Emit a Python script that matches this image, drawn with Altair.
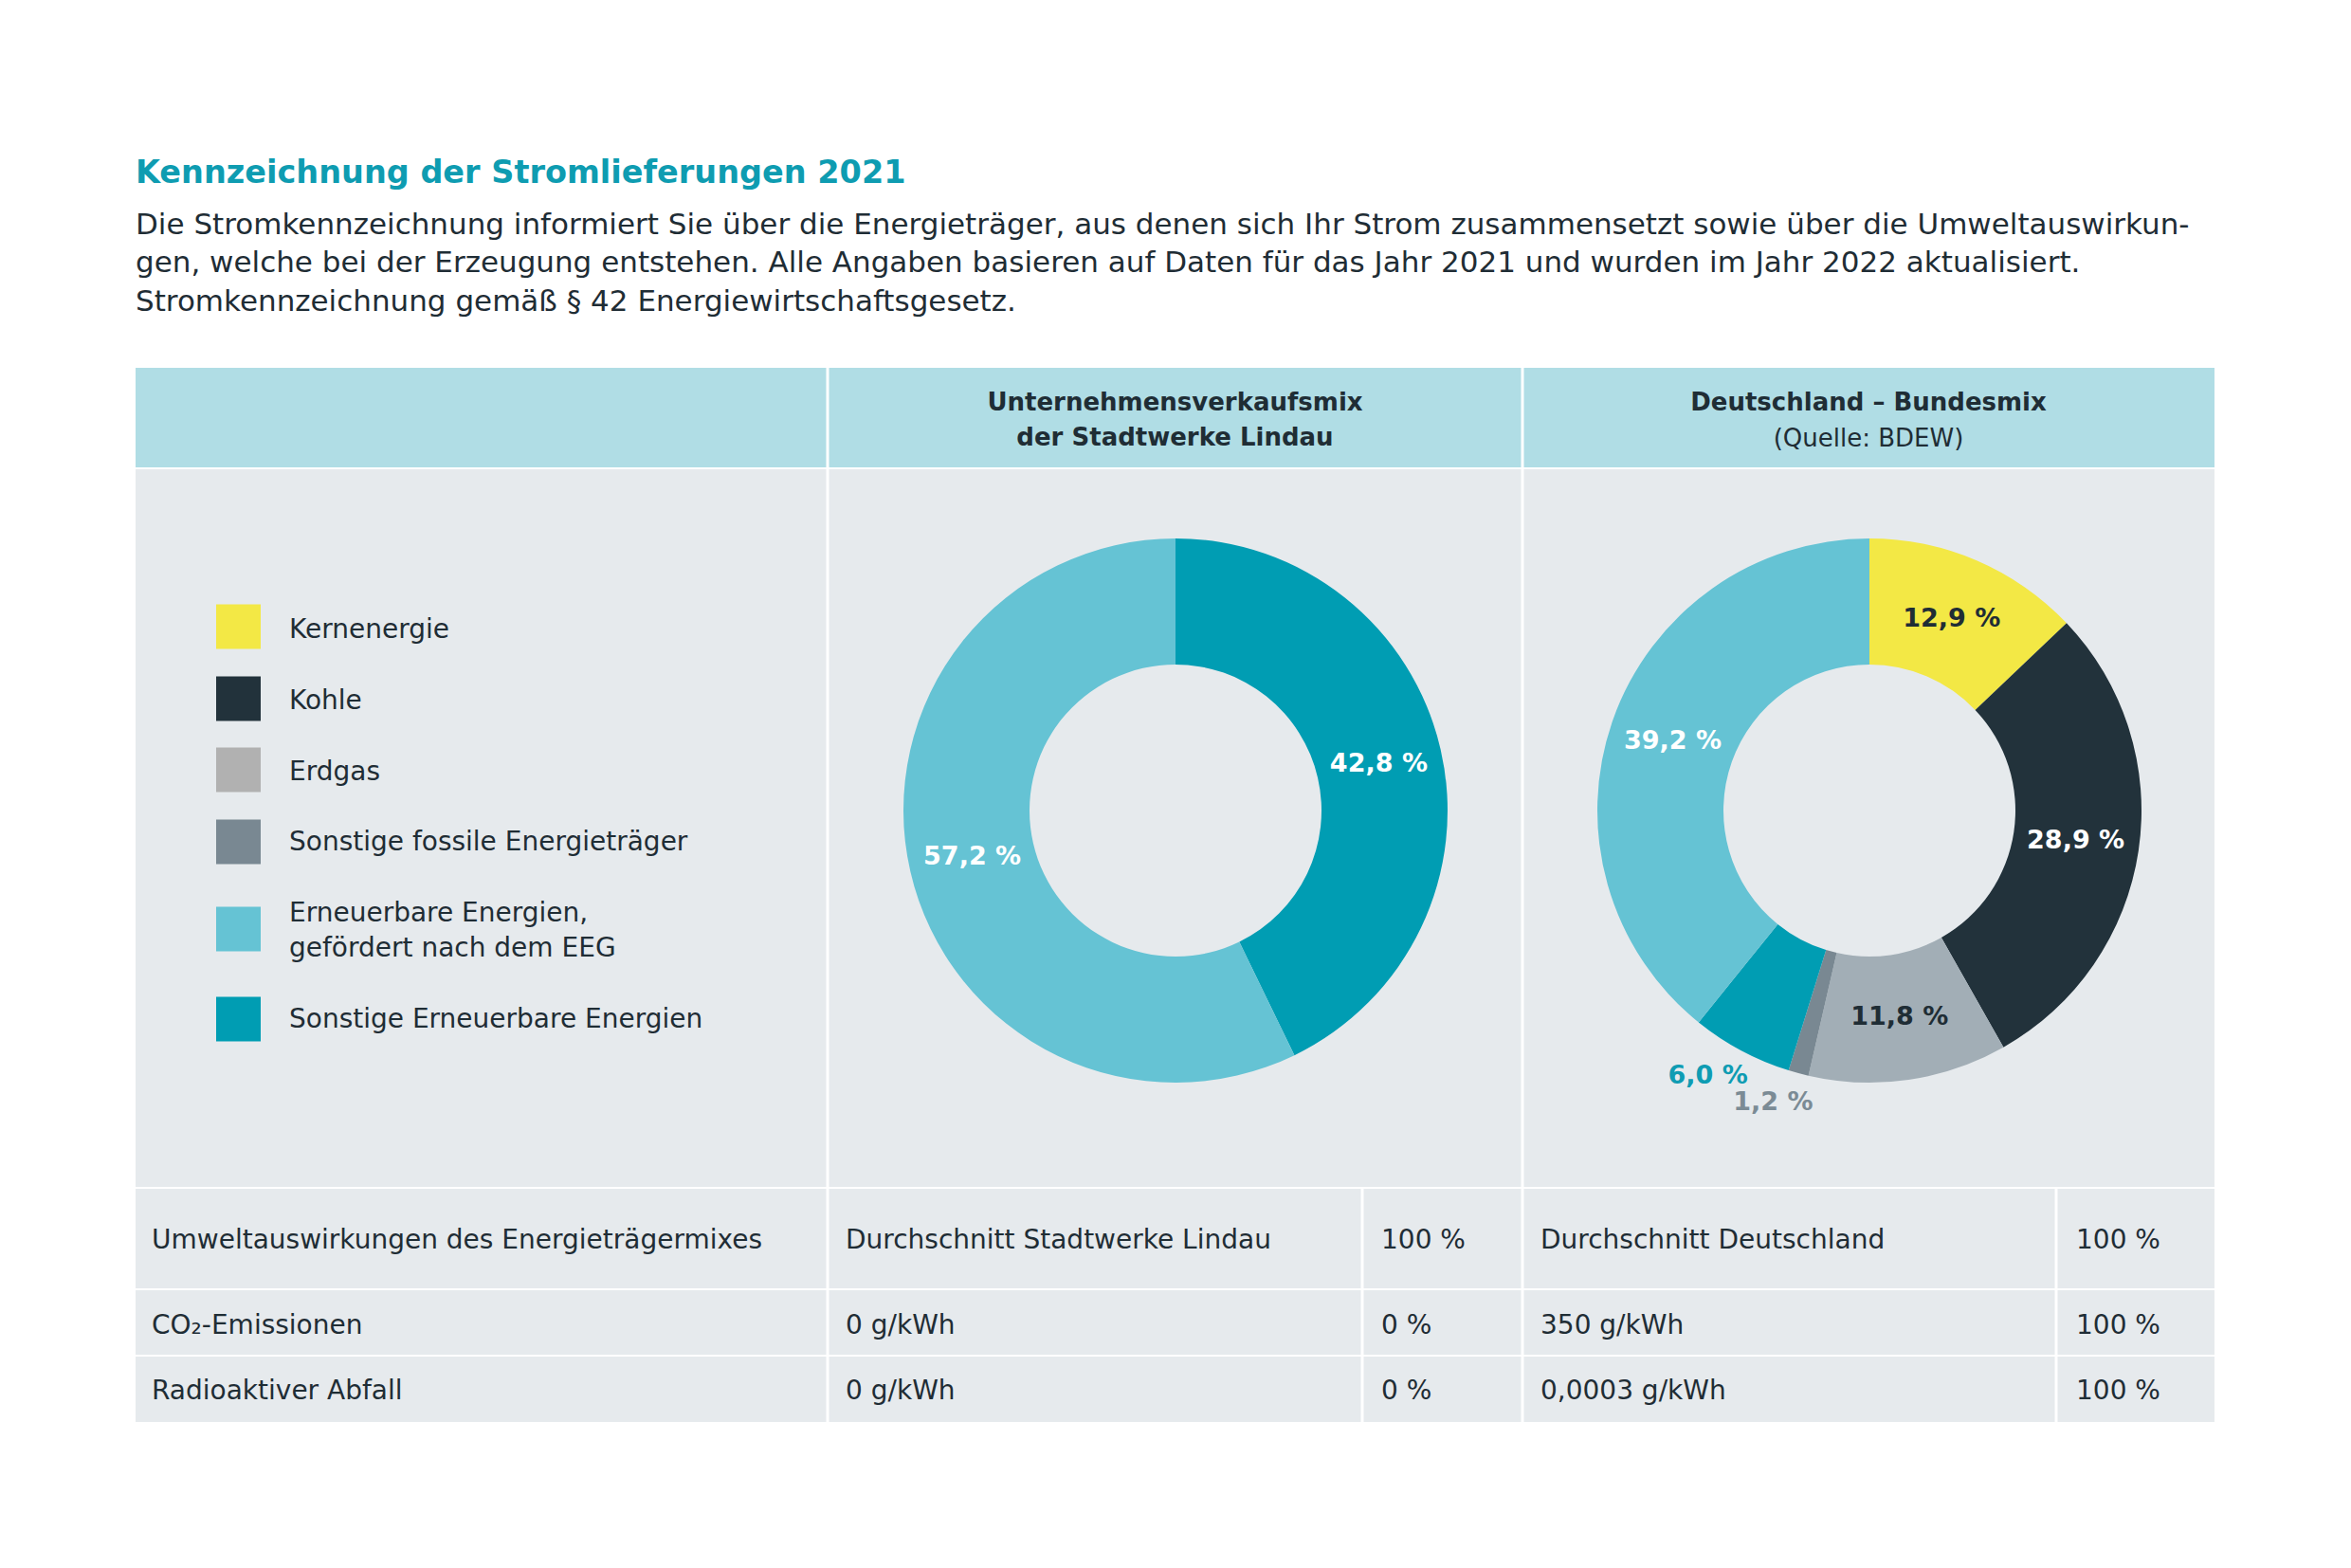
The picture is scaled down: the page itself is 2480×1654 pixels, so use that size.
import altair as alt
import pandas as pd

# ---------------- data ----------------
title = "Kennzeichnung der Stromlieferungen 2021"
intro_lines = [
    "Die Stromkennzeichnung informiert Sie über die Energieträger, aus denen sich Ihr Strom zusammensetzt sowie über die Umweltauswirkun-",
    "gen, welche bei der Erzeugung entstehen. Alle Angaben basieren auf Daten für das Jahr 2021 und wurden im Jahr 2022 aktualisiert.",
    "Stromkennzeichnung gemäß § 42 Energiewirtschaftsgesetz.",
]
header_left = ["Unternehmensverkaufsmix", "der Stadtwerke Lindau"]
header_right = ["Deutschland – Bundesmix", "(Quelle: BDEW)"]

categories = [
    "Kernenergie",
    "Kohle",
    "Erdgas",
    "Sonstige fossile Energieträger",
    "Erneuerbare Energien, gefördert nach dem EEG",
    "Sonstige Erneuerbare Energien",
]
legend_labels = [
    ["Kernenergie"],
    ["Kohle"],
    ["Erdgas"],
    ["Sonstige fossile Energieträger"],
    ["Erneuerbare Energien,", "gefördert nach dem EEG"],
    ["Sonstige Erneuerbare Energien"],
]

lindau_cats = ["Sonstige Erneuerbare Energien", "Erneuerbare Energien, gefördert nach dem EEG"]
lindau_vals = [42.8, 57.2]

de_cats = ["Kernenergie", "Kohle", "Erdgas", "Sonstige fossile Energieträger",
           "Sonstige Erneuerbare Energien", "Erneuerbare Energien, gefördert nach dem EEG"]
de_vals = [12.9, 28.9, 11.8, 1.2, 6.0, 39.2]

row_labels = ["Umweltauswirkungen des Energieträgermixes", "CO₂-Emissionen", "Radioaktiver Abfall"]
lindau_col = ["Durchschnitt Stadtwerke Lindau", "0 g/kWh", "0 g/kWh"]
lindau_pct = ["100 %", "0 %", "0 %"]
de_col = ["Durchschnitt Deutschland", "350 g/kWh", "0,0003 g/kWh"]
de_pct = ["100 %", "100 %", "100 %"]

# ---------------- styles ----------------
FONT = "DejaVu Sans"
DARK = "#1f2d35"
TEAL_TITLE = "#0e9cb1"
HEAD_BG = "#b0dde5"
BODY_BG = "#e6eaed"

seg_color = {
    "Kernenergie": "#f3e845",
    "Kohle": "#22323b",
    "Erdgas": "#a2aeb6",
    "Sonstige fossile Energieträger": "#798892",
    "Erneuerbare Energien, gefördert nach dem EEG": "#65c3d4",
    "Sonstige Erneuerbare Energien": "#009db3",
}
legend_color = dict(seg_color)
legend_color["Erdgas"] = "#b1b1b1"

inside_label_color = {
    "Kernenergie": DARK,
    "Kohle": "#ffffff",
    "Erdgas": DARK,
    "Sonstige fossile Energieträger": DARK,
    "Erneuerbare Energien, gefördert nach dem EEG": "#ffffff",
    "Sonstige Erneuerbare Energien": "#ffffff",
}
outside_label_color = {
    "Sonstige fossile Energieträger": "#7b8b95",
    "Sonstige Erneuerbare Energien": "#0e9cb3",
}
SMALL = 7  # shares below this are labelled outside the ring

# ---------------- layout (page pixel coordinates) ----------------
W, H = 2464, 1638
xs = alt.Scale(domain=[8, 8 + W], nice=False, zero=False)
ys = alt.Scale(domain=[8, 8 + H], nice=False, zero=False, reverse=True)
X = lambda f="x": alt.X(f + ":Q", scale=xs, axis=None)
Y = lambda f="y": alt.Y(f + ":Q", scale=ys, axis=None)

L, C1, C2, R = 143, 873, 1606, 2336
SUB1, SUB2 = 1437, 2169
G = 1.5  # half gap of the white grid lines
cells = []
for a, b in [(L, C1), (C1, C2), (C2, R)]:
    cells.append(dict(x=a + (G if a != L else 0), x2=b - (G if b != R else 0), y=388, y2=493, fill=HEAD_BG))
for a, b in [(L, C1), (C1, C2), (C2, R)]:
    cells.append(dict(x=a + (G if a != L else 0), x2=b - (G if b != R else 0), y=495, y2=1252, fill=BODY_BG))
row_bounds = [(1254, 1359), (1361, 1429), (1431, 1500)]
col_bounds = [(L, C1), (C1, SUB1), (SUB1, C2), (C2, SUB2), (SUB2, R)]
for (t, b) in row_bounds:
    for a, c in col_bounds:
        cells.append(dict(x=a + (G if a != L else 0), x2=c - (G if c != R else 0), y=t, y2=b, fill=BODY_BG))
cells_df = pd.DataFrame(cells)

bg = alt.Chart(cells_df).mark_rect(strokeWidth=0).encode(
    x=X(), x2="x2:Q", y=Y(), y2="y2:Q", fill=alt.Fill("fill:N", scale=None)
)


def text_layer(df, **kw):
    base = dict(font=FONT, color=DARK, align="left", baseline="alphabetic")
    base.update(kw)
    return alt.Chart(df).mark_text(**base).encode(x=X(), y=Y(), text="t:N")


title_l = text_layer(pd.DataFrame({"x": [143], "y": [193], "t": [title]}),
                     fontSize=33.5, fontWeight="bold", color=TEAL_TITLE)
intro_l = text_layer(pd.DataFrame({"x": [143] * 3, "y": [247, 287, 328], "t": intro_lines}),
                     fontSize=31)
head_bold = text_layer(pd.DataFrame({"x": [1239.5, 1239.5, 1971],
                                     "y": [433, 470, 433],
                                     "t": [header_left[0], header_left[1], header_right[0]]}),
                       fontSize=26, fontWeight="bold", align="center")
head_norm = text_layer(pd.DataFrame({"x": [1971], "y": [471], "t": [header_right[1]]}),
                       fontSize=26, align="center")

# legend
leg_centers = [661, 737, 812, 888, 980, 1075]
leg_base = [[673], [748], [823], [897], [972, 1009], [1084]]
sq = 47
leg_rects = pd.DataFrame({
    "x": [228] * 6, "x2": [228 + sq] * 6,
    "y": [c - sq / 2 for c in leg_centers], "y2": [c + sq / 2 for c in leg_centers],
    "fill": [legend_color[c] for c in categories],
})
leg_sq = alt.Chart(leg_rects).mark_rect(strokeWidth=0).encode(
    x=X(), x2="x2:Q", y=Y(), y2="y2:Q", fill=alt.Fill("fill:N", scale=None)
)
lt, ly = [], []
for lines, bases in zip(legend_labels, leg_base):
    for s, b in zip(lines, bases):
        lt.append(s)
        ly.append(b)
leg_txt = text_layer(pd.DataFrame({"x": [305] * len(lt), "y": ly, "t": lt}), fontSize=28)


# donuts
def donut(cats, vals, cx, cy):
    fmt = [f"{v:.1f}".replace(".", ",") + " %" for v in vals]
    df = pd.DataFrame({
        "cat": cats, "v": vals, "idx": list(range(len(cats))),
        "col": [seg_color[c] for c in cats],
        "lab_in": [s if v >= SMALL else "" for s, v in zip(fmt, vals)],
        "lab_out": [s if v < SMALL else "" for s, v in zip(fmt, vals)],
        "lc_in": [inside_label_color[c] for c in cats],
        "lc_out": [outside_label_color.get(c, seg_color[c]) for c in cats],
    })
    base = alt.Chart(df).encode(
        theta=alt.Theta("v:Q", stack=True),
        order=alt.Order("idx:Q"),
    )
    arcs = base.mark_arc(innerRadius=154, outerRadius=287, strokeWidth=0).encode(
        color=alt.Color("col:N", scale=None),
        x=alt.value(cx - 8), y=alt.value(cy - 8),
    )
    lab_in = base.mark_text(font=FONT, fontSize=27, fontWeight="bold", align="center",
                            baseline="middle", radius=220).encode(
        text="lab_in:N",
        color=alt.Color("lc_in:N", scale=None),
        x=alt.value(cx - 8), y=alt.value(cy - 8),
    )
    lab_out = base.mark_text(font=FONT, fontSize=27, fontWeight="bold", align="center",
                             baseline="middle", radius=328, dx=-16, dy=-9).encode(
        text="lab_out:N",
        color=alt.Color("lc_out:N", scale=None),
        x=alt.value(cx - 8), y=alt.value(cy - 8),
    )
    return [arcs, lab_in, lab_out]


donut1 = donut(lindau_cats, lindau_vals, 1240, 855)
donut2 = donut(de_cats, de_vals, 1972, 855)

# bottom table texts
bx, by, bt = [], [], []
col_x = [160, 892, 1457, 1625, 2190]
row_y = [1317, 1407, 1476]
for ci, col in enumerate([row_labels, lindau_col, lindau_pct, de_col, de_pct]):
    for ri, s in enumerate(col):
        bx.append(col_x[ci])
        by.append(row_y[ri])
        bt.append(s)
table_txt = text_layer(pd.DataFrame({"x": bx, "y": by, "t": bt}), fontSize=28)

chart = alt.layer(
    bg, title_l, intro_l, head_bold, head_norm, leg_sq, leg_txt, *donut1, *donut2, table_txt
).properties(
    width=W, height=H,
    autosize=alt.AutoSizeParams(type="none"),
    padding=0,
    background="#ffffff",
).configure_view(stroke=None)

chart.save("out.html", embed_options={"renderer": "svg", "actions": False})
